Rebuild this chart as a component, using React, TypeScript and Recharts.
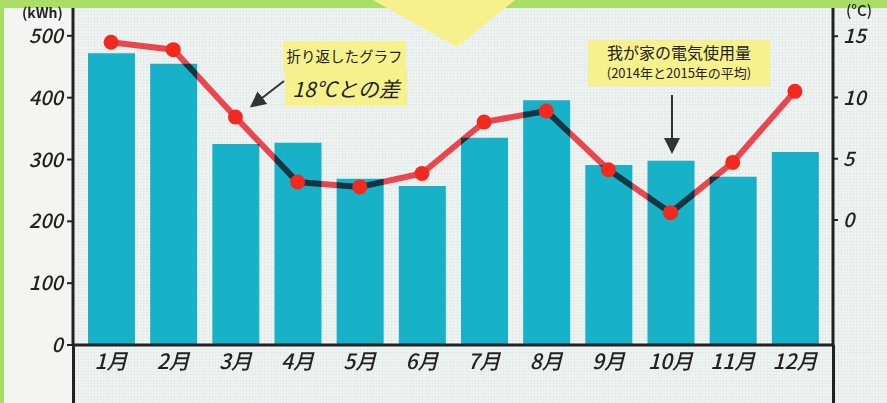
import { Bar, ComposedChart, Line, XAxis, YAxis } from "recharts";

const months = ["1月", "2月", "3月", "4月", "5月", "6月", "7月", "8月", "9月", "10月", "11月", "12月"];
// 我が家の電気使用量 (kWh, 2014年と2015年の平均)
const usage = [472, 455, 325, 327, 269, 257, 335, 396, 291, 298, 272, 312];
// 18℃との差 (折り返したグラフ)
const tempGap = [14.5, 13.9, 8.4, 3.1, 2.7, 3.8, 8.0, 8.9, 4.1, 0.6, 4.7, 10.5];
const kwhTicks = [0, 100, 200, 300, 400, 500];
const tempTicks = [0, 5, 10, 15];

const data = months.map((month, i) => ({
  month,
  usage: usage[i],
  gap: tempGap[i],
}));

const font = '"Noto Sans CJK JP", "Noto Sans", sans-serif';
const ink = "#222";
const note = "#f6f18c";
const tickStyle = { fontSize: 20, fill: ink, fontStyle: "italic", fontWeight: 500, fontFamily: font };

export default function App() {
  return (
    <div
      style={{
        position: "relative",
        width: 887,
        height: 403,
        background: "#a9de66",
        overflow: "hidden",
        fontFamily: font,
      }}
    >
      <style>{"body{margin:0} .temp-ink path{mix-blend-mode:multiply}"}</style>

      {/* paper */}
      <div
        style={{
          position: "absolute",
          left: 4,
          top: 8,
          right: 0,
          bottom: 0,
          background: "#eff3f1",
          backgroundImage:
            "repeating-linear-gradient(0deg, rgba(180,200,200,0.12) 0 1px, transparent 1px 3.1px), repeating-linear-gradient(90deg, rgba(180,200,200,0.12) 0 1px, transparent 1px 3.1px)",
        }}
      />
      <div
        style={{
          position: "absolute",
          left: 4,
          top: 8,
          width: 68,
          bottom: 0,
          background: "#f4f5f2",
        }}
      />

      <div style={{ position: "absolute", left: 0, top: 0 }}>
        <ComposedChart
          width={887}
          height={403}
          data={data}
          margin={{ top: 8, right: 4, bottom: 0, left: 8 }}
          barSize={47}
        >
          <XAxis
            dataKey="month"
            height={58}
            padding={{ left: 7, right: 7 }}
            axisLine={{ stroke: ink, strokeWidth: 3 }}
            tickLine={false}
            tickSize={6}
            tickMargin={3}
            tick={{ ...tickStyle, fontSize: 21 }}
          />
          <YAxis
            yAxisId="kwh"
            width={65}
            domain={[0, 545]}
            ticks={kwhTicks}
            allowDataOverflow
            axisLine={{ stroke: ink, strokeWidth: 3 }}
            tickLine={{ stroke: ink, strokeWidth: 2 }}
            tickSize={6}
            tickMargin={4}
            tick={tickStyle}
          />
          <YAxis
            yAxisId="temp"
            orientation="right"
            width={50}
            domain={[-10.2, 17.3]}
            ticks={tempTicks}
            allowDataOverflow
            axisLine={{ stroke: ink, strokeWidth: 3 }}
            tickLine={{ stroke: ink, strokeWidth: 2 }}
            tickSize={5}
            tickMargin={5}
            tick={{ ...tickStyle, textAnchor: "start" }}
          />
          <Bar yAxisId="kwh" dataKey="usage" fill="#17b1c8" isAnimationActive={false} />
          <Line
            yAxisId="temp"
            dataKey="gap"
            className="temp-ink"
            stroke="#ff4a54"
            strokeWidth={6}
            dot={false}
            activeDot={false}
            isAnimationActive={false}
          />
          <Line
            yAxisId="temp"
            dataKey="gap"
            stroke="none"
            dot={{ r: 7.5, fill: "#f4291e", stroke: "none" }}
            activeDot={false}
            isAnimationActive={false}
          />
        </ComposedChart>
      </div>

      {/* axis lines continue past the baseline */}
      <div style={{ position: "absolute", left: 71.5, top: 345, width: 3, bottom: 0, background: ink }} />
      <div style={{ position: "absolute", left: 831.5, top: 345, width: 3, bottom: 0, background: ink }} />

      {/* units */}
      <div
        style={{
          position: "absolute",
          left: 22,
          top: 5,
          fontSize: 14,
          lineHeight: "14px",
          fontWeight: 700,
          color: ink,
        }}
      >
        (kWh)
      </div>
      <div
        style={{
          position: "absolute",
          left: 846,
          top: 2,
          fontSize: 15,
          lineHeight: "15px",
          fontWeight: 500,
          color: ink,
        }}
      >
        (°C)
      </div>

      {/* notes */}
      <svg width={887} height={403} style={{ position: "absolute", left: 0, top: 0 }}>
        <polygon points="373,0 515,0 457,47" fill={note} />
        <defs>
          <marker id="head" markerWidth="8" markerHeight="8" refX="6" refY="4" orient="auto">
            <path d="M0,0 L8,4 L0,8 Z" fill="#333" />
          </marker>
        </defs>
        <line x1={284} y1={81} x2={253} y2={105} stroke="#333" strokeWidth={2} markerEnd="url(#head)" />
        <line x1={672} y1={95} x2={672} y2={150} stroke="#333" strokeWidth={2} markerEnd="url(#head)" />
      </svg>
      <div
        style={{
          position: "absolute",
          left: 283,
          top: 41,
          width: 123,
          height: 29,
          background: note,
          fontSize: 14.5,
          lineHeight: "29px",
          textAlign: "center",
          whiteSpace: "nowrap",
          color: ink,
        }}
      >
        折り返したグラフ
      </div>
      <div
        style={{
          position: "absolute",
          left: 285,
          top: 70,
          width: 122,
          height: 36,
          background: note,
          fontSize: 21,
          lineHeight: "36px",
          textAlign: "center",
          whiteSpace: "nowrap",
          color: ink,
          fontStyle: "italic",
        }}
      >
        18°Cとの差
      </div>
      <div
        style={{
          position: "absolute",
          left: 588,
          top: 40,
          width: 182,
          height: 46,
          background: note,
          color: ink,
          textAlign: "center",
          whiteSpace: "nowrap",
        }}
      >
        <div style={{ fontSize: 16, lineHeight: "22px", marginTop: 1 }}>我が家の電気使用量</div>
        <div style={{ fontSize: 13, lineHeight: "20px" }}>(2014年と2015年の平均)</div>
      </div>
    </div>
  );
}
